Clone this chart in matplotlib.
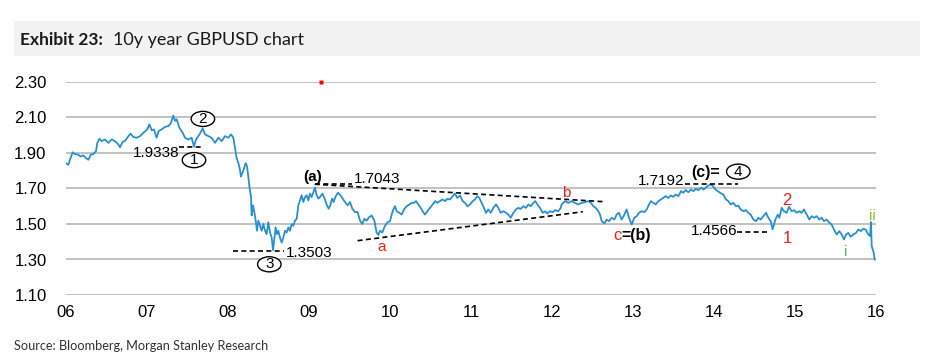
import matplotlib
matplotlib.use("Agg")
import matplotlib.pyplot as plt
from matplotlib.patches import Ellipse, Rectangle

# years since start of 2006, GBPUSD level
t = [0.000, 0.029, 0.049, 0.082, 0.111, 0.152, 0.181, 0.214, 0.247, 0.276, 0.305, 0.337, 0.370, 0.387, 0.412,
     0.440, 0.481, 0.523, 0.564, 0.605, 0.646, 0.667, 0.700, 0.733, 0.770, 0.798, 0.831, 0.872, 0.914, 0.955,
     1.004, 1.029, 1.058, 1.086, 1.119, 1.144, 1.181, 1.222, 1.263, 1.292, 1.325, 1.346, 1.366, 1.399, 1.440,
     1.469, 1.510, 1.551, 1.580, 1.605, 1.634, 1.654, 1.687, 1.716, 1.757, 1.798, 1.840, 1.881, 1.922, 1.963,
     2.004, 2.037, 2.066, 2.086, 2.107, 2.128, 2.148, 2.160, 2.177, 2.198, 2.218, 2.235, 2.251, 2.267, 2.284,
     2.292, 2.309, 2.325, 2.342, 2.358, 2.374, 2.395, 2.416, 2.436, 2.457, 2.477, 2.498, 2.519, 2.539, 2.556,
     2.572, 2.588, 2.605, 2.621, 2.642, 2.663, 2.683, 2.704, 2.724, 2.745, 2.765, 2.786, 2.807, 2.827, 2.848,
     2.868, 2.889, 2.909, 2.930, 2.951, 2.971, 2.992, 3.012, 3.033, 3.053, 3.074, 3.095, 3.115, 3.136, 3.165,
     3.193, 3.222, 3.243, 3.263, 3.284, 3.304, 3.325, 3.358, 3.387, 3.416, 3.444, 3.477, 3.506, 3.535, 3.568,
     3.600, 3.630, 3.658, 3.683, 3.712, 3.741, 3.774, 3.807, 3.835, 3.856, 3.877, 3.905, 3.938, 3.971,
     4.000, 4.021, 4.041, 4.062, 4.082, 4.115, 4.144, 4.173, 4.206, 4.239, 4.267, 4.296, 4.321, 4.350, 4.379,
     4.403, 4.432, 4.461, 4.494, 4.527, 4.556, 4.584, 4.617, 4.650, 4.679, 4.708, 4.741, 4.774, 4.802, 4.831,
     4.864, 4.897, 4.926, 4.955, 4.988, 5.021, 5.049, 5.078, 5.103, 5.132, 5.160, 5.185, 5.214, 5.243, 5.276,
     5.309, 5.337, 5.366, 5.399, 5.432, 5.461, 5.490, 5.523, 5.556, 5.584, 5.613, 5.646, 5.679, 5.708, 5.737,
     5.770, 5.794, 5.819, 5.852, 5.885, 5.914, 5.942, 5.975, 6.008, 6.037, 6.078, 6.107,
     6.119, 6.160, 6.202, 6.243, 6.284, 6.325, 6.366, 6.407, 6.449, 6.481, 6.510, 6.539, 6.572, 6.593, 6.613,
     6.646, 6.675, 6.704, 6.737, 6.770, 6.798, 6.827, 6.860, 6.893, 6.922, 6.951, 6.984, 7.016, 7.045, 7.074,
     7.107, 7.140, 7.169, 7.198, 7.222, 7.251, 7.280, 7.313, 7.346, 7.374, 7.403, 7.436, 7.469, 7.498, 7.527,
     7.560, 7.593, 7.621, 7.650, 7.683, 7.716, 7.745, 7.774, 7.807, 7.840, 7.868, 7.897, 7.930, 7.951, 7.979,
     8.012, 8.045,
     8.074, 8.115, 8.148, 8.177, 8.206, 8.239, 8.272, 8.300, 8.329, 8.362, 8.395, 8.424, 8.453, 8.486, 8.519,
     8.547, 8.576, 8.609, 8.642, 8.671, 8.700, 8.724, 8.757, 8.786, 8.807, 8.835, 8.864, 8.897, 8.926, 8.959,
     8.988, 9.021, 9.053, 9.082, 9.111, 9.144, 9.177, 9.206, 9.235, 9.268, 9.300, 9.329, 9.358, 9.391, 9.424,
     9.453, 9.481, 9.514, 9.547, 9.576, 9.605, 9.630, 9.658, 9.687, 9.720, 9.753, 9.782, 9.811, 9.844, 9.872,
     9.905, 9.926, 9.938, 9.947, 9.967, 9.984]
gbpusd = [1.843, 1.833, 1.862, 1.904, 1.894, 1.890, 1.880, 1.887, 1.871, 1.862, 1.890, 1.894, 1.910, 1.957, 1.980,
          1.967, 1.976, 1.957, 1.976, 1.967, 1.948, 1.932, 1.963, 1.970, 1.995, 2.009, 1.990, 1.986, 1.995, 2.014,
          2.033, 2.062, 2.028, 2.033, 1.986, 2.024, 2.033, 2.047, 2.052, 2.066, 2.110, 2.081, 2.090, 2.043, 2.014,
          1.986, 1.976, 1.986, 1.936, 1.976, 1.995, 2.009, 2.039, 2.005, 1.995, 1.986, 1.957, 1.986, 1.967, 1.995,
          1.986, 2.005, 1.986, 1.929, 1.871, 1.843, 1.805, 1.767, 1.786, 1.814, 1.843, 1.824, 1.767, 1.700, 1.652,
          1.548, 1.605, 1.567, 1.519, 1.462, 1.519, 1.490, 1.462, 1.500, 1.462, 1.443, 1.510, 1.452, 1.424, 1.353,
          1.414, 1.481, 1.443, 1.462, 1.424, 1.395, 1.424, 1.462, 1.452, 1.481, 1.462, 1.500, 1.490, 1.519, 1.529,
          1.605, 1.633, 1.662, 1.624, 1.652, 1.662, 1.633, 1.671, 1.652, 1.677, 1.705, 1.662, 1.643, 1.652, 1.671,
          1.643, 1.605, 1.586, 1.605, 1.643, 1.624, 1.652, 1.677, 1.662, 1.643, 1.624, 1.605, 1.624, 1.586, 1.567,
          1.567, 1.519, 1.500, 1.529, 1.519, 1.538, 1.548, 1.519, 1.452, 1.438, 1.462, 1.452, 1.490, 1.510,
          1.516, 1.553, 1.582, 1.600, 1.572, 1.563, 1.553, 1.582, 1.600, 1.610, 1.619, 1.619, 1.629, 1.610, 1.591,
          1.572, 1.553, 1.572, 1.591, 1.610, 1.629, 1.619, 1.629, 1.638, 1.629, 1.642, 1.638, 1.657, 1.672, 1.647,
          1.661, 1.629, 1.619, 1.600, 1.610, 1.629, 1.638, 1.657, 1.647, 1.619, 1.591, 1.563, 1.582, 1.563, 1.591,
          1.610, 1.591, 1.563, 1.572, 1.563, 1.553, 1.535, 1.563, 1.582, 1.591, 1.585, 1.600, 1.591, 1.610, 1.600,
          1.619, 1.629, 1.610, 1.591, 1.563, 1.572, 1.559, 1.572, 1.567, 1.578, 1.572, 1.591,
          1.610, 1.629, 1.619, 1.629, 1.619, 1.610, 1.619, 1.623, 1.629, 1.619, 1.600, 1.591, 1.572, 1.553, 1.516,
          1.503, 1.525, 1.516, 1.535, 1.525, 1.553, 1.563, 1.525, 1.553, 1.582, 1.535, 1.497, 1.535, 1.544, 1.563,
          1.572, 1.567, 1.582, 1.610, 1.629, 1.619, 1.610, 1.629, 1.638, 1.647, 1.657, 1.647, 1.661, 1.653, 1.666,
          1.657, 1.685, 1.676, 1.691, 1.679, 1.694, 1.685, 1.698, 1.691, 1.704, 1.694, 1.704, 1.717, 1.722, 1.717,
          1.698, 1.685,
          1.676, 1.666, 1.638, 1.629, 1.610, 1.619, 1.600, 1.604, 1.582, 1.572, 1.578, 1.563, 1.553, 1.525, 1.516,
          1.535, 1.525, 1.544, 1.563, 1.535, 1.516, 1.470, 1.525, 1.553, 1.535, 1.591, 1.572, 1.563, 1.597, 1.572,
          1.578, 1.563, 1.572, 1.563, 1.582, 1.553, 1.525, 1.544, 1.535, 1.544, 1.525, 1.535, 1.516, 1.525, 1.507,
          1.497, 1.469, 1.441, 1.460, 1.441, 1.413, 1.441, 1.450, 1.428, 1.441, 1.450, 1.469, 1.460, 1.473, 1.469,
          1.441, 1.432, 1.511, 1.375, 1.347, 1.300]

start_year = 2006
year_ticks = list(range(2006, 2017))
y_ticks = [1.10, 1.30, 1.50, 1.70, 1.90, 2.10, 2.30]

# wave levels
lvl_1 = 1.9338
lvl_3 = 1.3503
lvl_a = 1.7043
lvl_4 = 1.7192
lvl_w1 = 1.4566

W, H = 935, 358
fig = plt.figure(figsize=(W / 100, H / 100), dpi=100)
fig.patch.set_facecolor("white")
plt.rcParams["font.family"] = ["Liberation Sans", "DejaVu Sans"]

# title band
fig.patches.append(Rectangle((14 / W, 1 - 56 / H), 906 / W, 35 / H, transform=fig.transFigure,
                             fc="#f2f2f2", ec="none", zorder=0))
fig.text(20 / W, 1 - 40 / H, "Exhibit 23:", fontsize=12.5, fontweight="bold", family="Lato",
         va="center", ha="left", color="#1a1a1a")
fig.text(113 / W, 1 - 40 / H, "10y year GBPUSD chart", fontsize=13, family="Lato",
         va="center", ha="left", color="#1a1a1a")
fig.text(14 / W, 1 - 346 / H, "Source: Bloomberg, Morgan Stanley Research", fontsize=9.2, family="Lato",
         va="center", ha="left", color="#333333")

ax = fig.add_axes([66 / W, 63 / H, 810 / W, 213 / H])
x = [start_year + v for v in t]
ax.plot(x, gbpusd, color="#2a8fcf", lw=1.3, zorder=3)

ax.set_xlim(2006, 2016)
ax.set_ylim(1.10, 2.30)
ax.set_yticks(y_ticks)
ax.set_yticklabels([f"{v:.2f}" for v in y_ticks])
ax.set_xticks(year_ticks)
ax.set_xticklabels([f"{y % 100:02d}" for y in year_ticks])
ax.yaxis.grid(True, color="#bdbdbd", lw=1.3)
ax.set_axisbelow(True)
for s in ax.spines.values():
    s.set_visible(False)
ax.tick_params(axis="y", length=0, pad=14, labelsize=12)
ax.tick_params(axis="x", length=0, pad=7, labelsize=12)

dash = dict(color="black", lw=1.2, ls=(0, (3, 2)), zorder=4)

def circled(xc, yc, label):
    ax.add_patch(Ellipse((xc, yc), 0.29, 0.085, fc="white", ec="black", lw=1, zorder=5))
    ax.text(xc, yc, label, ha="center", va="center", fontsize=11, zorder=6)

# wave 1 / 2
ax.plot([2007.40, 2007.70], [lvl_1, lvl_1], **dash)
ax.text(2007.40, 1.898, "1.9338", ha="right", va="center", fontsize=11, zorder=6)
circled(2007.58, 1.860, "1")
circled(2007.69, 2.092, "2")

# wave 3
ax.plot([2008.06, 2008.69], [lvl_3, lvl_3], **dash)
ax.text(2008.72, 1.338, "1.3503", ha="left", va="center", fontsize=11, zorder=6)
circled(2008.51, 1.273, "3")

# (a) and triangle
ax.text(2009.05, 1.766, "(a)", ha="center", va="center", fontsize=11, fontweight="bold", zorder=6)
ax.plot([2009.07, 2009.53], [lvl_a + 0.02, lvl_a + 0.02], **dash)
ax.text(2009.56, 1.752, "1.7043", ha="left", va="center", fontsize=11, zorder=6)
ax.plot([2009.07, 2012.63], [1.724, 1.626], **dash)
ax.plot([2009.60, 2012.38], [1.406, 1.569], **dash)
ax.text(2009.90, 1.372, "a", ha="center", va="center", fontsize=11, color="#e8201f", zorder=6)
ax.text(2012.17, 1.673, "b", ha="center", va="center", fontsize=11, color="#e8201f", zorder=6)
ax.text(2012.86, 1.436, "c", ha="right", va="center", fontsize=12, color="#e8201f", zorder=6)
ax.text(2012.86, 1.436, "=(b)", ha="left", va="center", fontsize=11.5, fontweight="bold", zorder=6)

# wave 4
ax.plot([2013.64, 2014.30], [lvl_4 + 0.005, lvl_4 + 0.005], **dash)
ax.text(2013.64, 1.744, "1.7192", ha="right", va="center", fontsize=11, zorder=6)
ax.text(2013.90, 1.789, "(c)=", ha="center", va="center", fontsize=11.5, fontweight="bold", zorder=6)
circled(2014.30, 1.795, "4")

# wave 5 subdivisions
ax.plot([2014.29, 2014.68], [lvl_w1, lvl_w1], **dash)
ax.text(2014.29, 1.460, "1.4566", ha="right", va="center", fontsize=11, zorder=6)
ax.text(2014.91, 1.419, "1", ha="center", va="center", fontsize=12, color="#e8201f", zorder=6)
ax.text(2014.90, 1.631, "2", ha="center", va="center", fontsize=12, color="#e8201f", zorder=6)
ax.text(2015.62, 1.344, "i", ha="center", va="center", fontsize=11, color="#5cb85c", zorder=6)
ax.text(2015.96, 1.545, "ii", ha="center", va="center", fontsize=11, color="#8cbf3f", zorder=6)

# stray red mark at top of plot
ax.plot([2009.15], [2.30], marker="s", ms=2.2, color="red", mec="none", clip_on=False, zorder=6)

fig.savefig("out.png", dpi=100)
